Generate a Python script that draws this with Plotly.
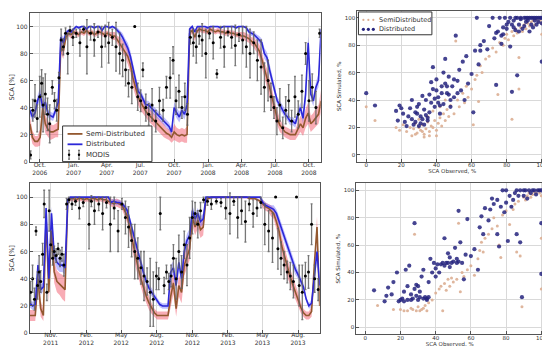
import plotly.graph_objects as go
import pandas as pd

# ---------------- DATA ----------------
# Top time series (weekly, from 2006-09-04)
top_start = "2006-09-04"
top_dist = [38, 33, 36, 45, 50, 40, 44, 36, 34, 33, 38, 44,
            92, 88,
            95, 97, 96, 98,
            100, 99, 100, 100, 98, 100, 100, 99, 100, 100, 97, 100, 100, 99, 100, 99,
            97, 95, 92, 88, 84, 78, 70, 60, 52, 50, 46, 42, 42, 40, 38, 36, 34, 32, 30, 28, 26, 22,
            40, 36, 33, 38, 35, 42,
            98, 100, 96, 100, 100, 100, 100, 99, 100, 100, 100, 100, 99, 100, 100, 100, 100, 100, 99, 100, 100, 100, 99,
            96, 95, 94, 92, 90, 88, 80, 77, 68, 60, 52, 45, 42, 38, 35, 33, 30, 30, 28, 35, 40, 32, 50, 88, 50, 45, 55, 60, 98]
top_semi = [28, 18, 15, 15, 18, 40, 28, 24, 22, 22, 23, 24,
            85, 82,
            92, 95, 94, 96,
            95, 94, 96, 95, 97, 95, 96, 94, 95, 96, 95, 94, 95, 94, 93, 93,
            90, 88, 85, 82, 78, 72, 62, 55, 48, 44, 40, 37, 35, 33, 31, 29, 27, 25, 23, 21, 20, 18,
            22, 20, 19, 20, 19, 20,
            95, 97, 92, 97, 98, 97, 97, 96, 98, 97, 96, 97, 96, 96, 95, 96, 95, 95, 94, 94, 93, 93, 92,
            91, 89, 88, 85, 82, 76, 68, 62, 55, 47, 38, 32, 27, 24, 22, 21, 20, 20, 20, 24, 28, 25, 32, 36, 28, 30, 33, 35, 45]
top_semi_spread = [6, 5, 4, 4, 6, 8, 7, 6, 6, 5, 5, 6,
                   5, 6,
                   3, 2, 3, 2,
                   2, 2, 2, 2, 2, 2, 2, 2, 2, 2, 2, 2, 2, 2, 3, 3,
                   3, 4, 5, 5, 6, 6, 7, 7, 6, 6, 5, 5, 5, 5, 5, 5, 5, 5, 5, 4, 4, 4,
                   6, 5, 5, 5, 5, 6,
                   3, 2, 3, 2, 2, 2, 2, 2, 2, 2, 2, 2, 2, 2, 2, 2, 2, 2, 2, 2, 3, 3, 3,
                   3, 3, 4, 4, 5, 6, 6, 7, 7, 7, 6, 5, 5, 4, 4, 4, 4, 4, 4, 5, 6, 6, 7, 8, 6, 6, 7, 7, 8]
top_dist_spread = [4, 3, 3, 4, 5, 4, 4, 3, 3, 3, 3, 4,
                   3, 4,
                   2, 1, 2, 1,
                   1, 1, 1, 1, 1, 1, 1, 1, 1, 1, 1, 1, 1, 1, 1, 1,
                   2, 2, 3, 3, 4, 4, 4, 4, 4, 3, 3, 3, 3, 3, 3, 3, 3, 3, 3, 3, 3, 3,
                   4, 4, 4, 4, 4, 4,
                   2, 1, 1, 1, 1, 1, 1, 1, 1, 1, 1, 1, 1, 1, 1, 1, 1, 1, 1, 1, 1, 1, 1,
                   2, 2, 2, 2, 3, 3, 4, 4, 4, 4, 4, 3, 3, 3, 3, 3, 3, 3, 3, 3, 4, 4, 5, 5, 4, 4, 4, 5, 4]

modis_top_dates = ["2006-09-06", "2006-09-12", "2006-09-18", "2006-09-24", "2006-10-01", "2006-10-06",
                   "2006-10-10", "2006-10-16", "2006-10-22", "2006-10-28", "2006-11-04", "2006-11-10",
                   "2006-11-16", "2006-11-22", "2006-11-28", "2006-12-04", "2006-12-10", "2006-12-16",
                   "2006-12-22", "2006-12-30", "2007-01-08", "2007-01-18", "2007-01-28", "2007-02-06",
                   "2007-02-16", "2007-02-26", "2007-03-08", "2007-03-18", "2007-03-28", "2007-04-06",
                   "2007-04-16", "2007-04-26", "2007-05-06", "2007-05-14", "2007-05-22", "2007-05-30",
                   "2007-06-08", "2007-06-16", "2007-06-24", "2007-07-02", "2007-07-08", "2007-07-16",
                   "2007-07-24", "2007-08-02", "2007-08-12", "2007-08-22", "2007-09-01", "2007-09-10",
                   "2007-09-20", "2007-09-28", "2007-10-06", "2007-10-14", "2007-10-22", "2007-10-30",
                   "2007-11-06", "2007-11-14", "2007-11-22", "2007-11-30", "2007-12-08", "2007-12-16",
                   "2007-12-26", "2008-01-05", "2008-01-15", "2008-01-25", "2008-02-04", "2008-02-14",
                   "2008-02-24", "2008-03-05", "2008-03-15", "2008-03-25", "2008-04-04", "2008-04-14",
                   "2008-04-24", "2008-05-04", "2008-05-14", "2008-05-24", "2008-06-02", "2008-06-12",
                   "2008-06-20", "2008-06-28", "2008-07-06", "2008-07-14", "2008-07-22", "2008-07-30",
                   "2008-08-07", "2008-08-15", "2008-08-24", "2008-09-02", "2008-09-12", "2008-09-22",
                   "2008-10-01", "2008-10-10", "2008-10-20", "2008-10-30"]
modis_top_vals = [5, 38, 45, 32, 48, 58, 42, 50, 35, 28, 55, 45,
                  38, 62, 90, 85, 95, 80, 97, 92, 95, 88, 98, 85,
                  95, 90, 96, 85, 93, 88, 92, 85, 80, 75, 68, 58,
                  55, 100, 48, 45, 68, 40, 35, 42, 30, 45, 38, 55,
                  62, 75, 45, 52, 40, 48, 35, 92, 88, 85, 93, 90,
                  80, 95, 88, 65, 92, 85, 96, 92, 86, 94, 90, 85,
                  80, 88, 75, 70, 55, 60, 48, 40, 30, 42, 25, 38,
                  45, 30, 48, 35, 52, 80, 45, 55, 40, 95]
modis_top_err = [3, 8, 12, 10, 15, 10, 20, 15, 12, 14, 5, 6,
                 8, 4, 8, 6, 4, 15, 3, 6, 3, 10, 2, 20,
                 5, 12, 4, 15, 8, 15, 6, 18, 15, 12, 12, 10,
                 12, 0, 10, 8, 5, 10, 8, 12, 8, 10, 8, 8,
                 15, 10, 10, 12, 8, 10, 8, 5, 10, 12, 6, 12,
                 18, 4, 12, 3, 8, 15, 3, 8, 15, 5, 10, 15,
                 18, 8, 15, 20, 18, 15, 10, 8, 10, 12, 8, 10,
                 12, 8, 15, 10, 12, 8, 15, 10, 12, 3]

# Bottom time series (weekly, from 2011-09-08)
bot_start = "2011-09-08"
bot_dist = [22, 20, 21, 50, 32, 34, 92, 40, 88, 58, 52, 50, 50, 48,
            98, 100, 100, 100, 100, 100, 100, 100, 100, 100, 100, 100, 100, 100, 100, 100,
            96, 97, 96, 96, 95,
            93, 90, 82, 74, 66, 58, 50, 44, 38, 33, 30, 27, 24, 21, 20, 20, 20,
            45, 48, 35, 52, 40, 60, 68, 72, 90, 84, 88, 82, 84,
            100, 100, 100, 100, 100, 100, 100, 100, 100, 100, 100, 100, 100, 100, 100, 100, 100, 100, 100, 100, 100,
            96, 94, 93, 92, 91, 88, 82, 76, 70, 64, 58, 52, 47, 43, 38, 34, 25, 20, 22, 40, 60, 35]
bot_semi = [13, 13, 13, 40, 18, 13, 85, 30, 75, 45, 38, 36, 34, 32,
            97, 99, 99, 98, 99, 99, 98, 99, 98, 99, 99, 98, 99, 98, 98, 97,
            96, 95, 96, 95, 94,
            90, 86, 76, 66, 56, 48, 40, 33, 27, 22, 18, 15, 13, 13, 13, 13, 13,
            27, 37, 18, 35, 30, 50, 56, 62, 85, 78, 83, 76, 78,
            98, 99, 100, 100, 100, 100, 100, 100, 100, 100, 100, 100, 100, 100, 100, 100, 99, 99, 99, 98, 97,
            95, 93, 92, 90, 88, 82, 75, 64, 56, 48, 42, 36, 30, 25, 19, 15, 13, 13, 16, 50, 78, 20]
bot_semi_spread = [4, 4, 4, 8, 6, 4, 6, 8, 8, 8, 8, 8, 9, 9,
                   2, 2, 2, 2, 2, 2, 2, 2, 2, 2, 2, 2, 2, 2, 2, 2,
                   3, 3, 3, 3, 3,
                   4, 5, 6, 7, 7, 7, 7, 6, 5, 5, 4, 3, 3, 3, 3, 3, 3,
                   8, 8, 6, 8, 8, 8, 8, 8, 6, 6, 6, 6, 6,
                   1, 1, 1, 1, 1, 1, 1, 1, 1, 1, 1, 1, 1, 1, 1, 1, 1, 1, 1, 1, 1,
                   3, 3, 3, 4, 4, 5, 6, 7, 7, 7, 6, 6, 5, 5, 4, 3, 3, 3, 4, 8, 8, 5]
bot_dist_spread = [3, 3, 3, 5, 4, 3, 4, 4, 5, 5, 5, 5, 5, 5,
                   1, 1, 1, 1, 1, 1, 1, 1, 1, 1, 1, 1, 1, 1, 1, 1,
                   2, 2, 2, 2, 2,
                   2, 3, 3, 4, 4, 4, 4, 4, 3, 3, 3, 2, 2, 2, 2, 2, 2,
                   5, 5, 4, 5, 5, 5, 5, 5, 4, 4, 4, 4, 4,
                   1, 1, 1, 1, 1, 1, 1, 1, 1, 1, 1, 1, 1, 1, 1, 1, 1, 1, 1, 1, 1,
                   2, 2, 2, 2, 3, 3, 4, 4, 4, 4, 4, 4, 4, 3, 3, 3, 2, 2, 3, 5, 5, 4]

modis_bot_dates = ["2011-09-10", "2011-09-15", "2011-09-20", "2011-09-24", "2011-09-28", "2011-10-02",
                   "2011-10-06", "2011-10-11", "2011-10-15", "2011-10-22", "2011-10-28", "2011-11-01",
                   "2011-11-06", "2011-11-10", "2011-11-15", "2011-11-20", "2011-11-25", "2011-11-30",
                   "2011-12-05", "2011-12-12", "2011-12-18", "2011-12-26", "2012-01-04", "2012-01-14",
                   "2012-01-24", "2012-02-08", "2012-02-14", "2012-02-22", "2012-03-04", "2012-03-14",
                   "2012-03-24", "2012-04-03", "2012-04-13", "2012-04-23", "2012-05-03", "2012-05-12",
                   "2012-05-20", "2012-05-28", "2012-06-05", "2012-06-13", "2012-06-21", "2012-06-29",
                   "2012-07-07", "2012-07-15", "2012-07-23", "2012-07-31", "2012-08-06", "2012-08-10",
                   "2012-08-20", "2012-08-26", "2012-09-01", "2012-09-07", "2012-09-13", "2012-09-20",
                   "2012-09-27", "2012-10-04", "2012-10-11", "2012-10-18", "2012-10-25", "2012-11-01",
                   "2012-11-08", "2012-11-15", "2012-11-22", "2012-11-30", "2012-12-10", "2012-12-20",
                   "2013-01-02", "2013-01-14", "2013-01-26", "2013-02-06", "2013-02-16", "2013-02-26",
                   "2013-03-08", "2013-03-18", "2013-03-28", "2013-04-07", "2013-04-17", "2013-04-27",
                   "2013-05-07", "2013-05-17", "2013-05-27", "2013-06-04", "2013-06-10", "2013-06-18",
                   "2013-06-26", "2013-07-04", "2013-07-12", "2013-07-20", "2013-07-28", "2013-08-04",
                   "2013-08-12", "2013-08-20", "2013-08-28", "2013-09-05", "2013-09-13", "2013-09-22"]
modis_bot_vals = [30, 40, 25, 75, 35, 45, 38, 58, 95, 30, 90, 65,
                  55, 60, 57, 62, 55, 58, 50, 95, 98, 95, 97, 92,
                  96, 80, 97, 90, 95, 88, 96, 80, 92, 75, 95, 85,
                  78, 68, 60, 55, 48, 42, 38, 30, 25, 42, 40, 88,
                  35, 45, 38, 42, 55, 40, 60, 45, 65, 50, 70, 85,
                  88, 80, 90, 98, 97, 95, 97, 96, 92, 88, 97, 85,
                  90, 82, 95, 88, 92, 96, 80, 75, 70, 100, 62, 55,
                  50, 45, 42, 38, 100, 35, 30, 42, 45, 80, 40, 32]
modis_bot_err = [8, 10, 8, 3, 10, 12, 8, 8, 10, 6, 15, 10,
                 5, 4, 5, 4, 6, 5, 8, 4, 2, 4, 3, 8,
                 3, 18, 4, 10, 5, 12, 4, 20, 8, 15, 4, 12,
                 15, 12, 20, 15, 12, 18, 10, 25, 20, 10, 8, 12,
                 6, 5, 6, 8, 10, 15, 12, 12, 10, 15, 15, 12,
                 8, 10, 6, 2, 3, 4, 2, 3, 8, 15, 3, 15,
                 10, 15, 5, 10, 6, 4, 15, 15, 18, 0, 15, 12,
                 10, 8, 10, 12, 0, 15, 20, 10, 12, 15, 10, 8]

# Scatter (observed, simulated) pairs
sc1_dist = [(0, 45), (5, 36), (17, 32), (18, 25), (19, 36), (21, 30), (22, 24), (24, 28), (25, 34), (26, 40),
            (28, 24), (29, 30), (30, 37), (31, 23), (32, 43), (33, 33), (34, 40), (35, 25), (37, 53), (38, 64),
            (39, 35), (40, 47), (41, 42), (42, 30), (43, 50), (44, 37), (45, 70), (46, 45), (47, 57), (48, 35),
            (49, 50), (50, 42), (51, 87), (52, 54), (53, 62), (54, 47), (55, 68), (56, 40), (57, 72), (58, 52),
            (60, 59), (61, 31), (62, 76), (63, 100), (64, 66), (65, 80), (65, 76), (67, 83), (69, 77), (72, 100),
            (73, 85), (74, 89), (74, 51), (76, 100), (77, 87), (77, 81), (78, 93), (79, 100), (80, 92), (81, 97),
            (82, 79), (83, 46), (83, 95), (84, 98), (85, 91), (86, 100), (86, 58), (87, 95), (88, 99), (89, 92),
            (90, 100), (91, 97), (92, 100), (92, 98), (93, 100), (94, 95), (95, 100), (96, 98), (97, 100), (98, 97),
            (99, 100), (100, 68), (82, 100), (85, 100), (88, 100), (91, 100), (94, 100), (96, 100), (98, 100),
            (100, 100), (100, 96), (90, 94), (87, 90), (84, 93), (80, 95), (78, 88), (75, 90), (70, 94), (93, 90),
            (95, 93), (97, 95), (27, 22), (30, 21), (33, 22), (35, 27), (36, 44), (38, 48), (40, 55), (41, 38),
            (43, 45), (44, 60), (46, 50), (48, 40), (50, 55), (52, 45), (36, 31), (31, 28), (29, 35), (23, 21),
            (20, 34), (26, 26), (39, 41), (42, 36), (45, 52), (47, 44), (34, 29), (37, 38), (32, 26), (28, 31)]
sc1_semi = [(0, 35), (5, 25), (17, 20), (19, 18), (21, 22), (23, 17), (25, 20), (26, 14), (27, 19), (28, 23),
            (29, 16), (30, 20), (31, 18), (32, 22), (33, 15), (34, 19), (35, 24), (36, 17), (37, 21), (38, 20),
            (39, 25), (40, 18), (41, 23), (42, 27), (43, 21), (44, 30), (45, 25), (46, 33), (47, 28), (48, 36),
            (50, 30), (51, 83), (52, 40), (53, 35), (55, 45), (56, 38), (57, 50), (58, 42), (60, 48), (61, 22),
            (62, 55), (63, 58), (64, 39), (65, 65), (66, 60), (68, 70), (70, 72), (72, 78), (74, 75), (75, 44),
            (76, 82), (78, 80), (79, 85), (80, 88), (81, 84), (83, 26), (83, 90), (84, 87), (85, 92), (86, 89),
            (87, 48), (87, 71), (88, 93), (89, 90), (90, 95), (91, 92), (92, 96), (93, 94), (94, 97), (95, 98),
            (96, 95), (97, 99), (98, 97), (99, 98), (100, 96), (100, 88), (38, 32), (42, 35), (45, 40), (35, 28),
            (30, 26), (33, 13), (36, 14), (28, 15), (40, 14), (32, 17)]
sc2_dist = [(5, 27), (28, 76), (11, 19), (12, 23), (13, 29), (15, 24), (16, 33), (18, 40), (19, 19), (21, 21),
            (22, 19), (23, 42), (25, 45), (26, 24), (27, 21), (28, 28), (29, 23), (30, 30), (31, 22), (32, 37),
            (33, 42), (35, 21), (36, 33), (37, 50), (38, 40), (39, 47), (40, 37), (41, 46), (42, 40), (43, 46),
            (45, 65), (46, 47), (47, 54), (48, 51), (49, 47), (51, 58), (52, 50), (53, 85), (54, 62), (55, 47),
            (56, 35), (57, 53), (58, 79), (60, 52), (62, 57), (64, 42), (65, 73), (66, 81), (67, 68), (68, 87),
            (70, 78), (71, 86), (72, 94), (73, 90), (75, 68), (75, 93), (76, 59), (77, 88), (78, 100), (79, 84),
            (80, 100), (80, 91), (81, 63), (82, 96), (83, 88), (84, 93), (85, 98), (86, 68), (86, 100), (87, 96),
            (88, 62), (88, 100), (89, 22), (90, 100), (90, 96), (91, 100), (92, 94), (93, 100), (94, 98), (95, 100),
            (96, 100), (97, 97), (98, 100), (99, 100), (100, 100), (100, 76), (100, 39), (20, 20), (24, 20),
            (26, 20), (30, 20), (33, 21), (34, 22), (35, 20), (31, 26), (29, 31), (22, 26), (24, 30), (36, 22),
            (40, 43), (44, 47), (50, 48), (52, 47), (48, 44), (45, 45), (47, 47), (53, 48)]
sc2_semi = [(7, 16), (16, 13), (20, 13), (22, 12), (24, 12), (26, 14), (27, 13), (28, 68), (29, 12), (30, 15),
            (31, 12), (32, 13), (33, 14), (34, 16), (35, 12), (36, 18), (38, 20), (40, 25), (42, 28), (43, 30),
            (44, 12), (45, 32), (46, 27), (47, 35), (48, 30), (49, 36), (50, 33), (52, 35), (53, 76), (54, 26),
            (55, 40), (56, 37), (58, 42), (60, 45), (62, 38), (64, 50), (65, 56), (66, 62), (67, 55), (68, 65),
            (70, 68), (72, 72), (73, 80), (75, 74), (76, 60), (77, 51), (78, 82), (80, 85), (82, 75), (83, 88),
            (84, 86), (85, 90), (86, 55), (87, 92), (88, 52), (89, 15), (90, 95), (91, 93), (92, 96), (93, 98),
            (94, 95), (95, 97), (96, 99), (97, 98), (98, 100), (99, 98), (100, 96), (100, 65), (100, 28)]

top_tickvals = ["2006-10-01", "2007-01-01", "2007-04-01", "2007-07-01", "2007-10-01",
                "2008-01-01", "2008-04-01", "2008-07-01", "2008-10-01"]
top_ticktext = ["Oct.<br>2006", "Jan.<br>2007", "Apr.<br>2007", "Jul.<br>2007", "Oct.<br>2007",
                "Jan.<br>2008", "Apr.<br>2008", "Jul.<br>2008", "Oct.<br>2008"]
bot_tickvals = ["2011-11-01", "2012-02-01", "2012-05-01", "2012-08-01",
                "2012-11-01", "2013-02-01", "2013-05-01", "2013-08-01"]
bot_ticktext = ["Nov.<br>2011", "Feb.<br>2012", "May<br>2012", "Aug.<br>2012",
                "Nov.<br>2012", "Feb.<br>2013", "May<br>2013", "Aug.<br>2013"]
ts_legend_names = ["Semi-Distributed", "Distributed", "MODIS"]
sc_legend_names = ["SemiDistributed", "Distributed"]

# ---------------- STYLE ----------------
SEMI_C = "#93582f"
DIST_C = "#2c28d8"
SEMI_BAND = "rgba(240,70,90,0.45)"
DIST_BAND = "rgba(110,110,255,0.45)"
SC_SEMI = "#dcae92"
SC_DIST = "#25237e"
FONT = "DejaVu Sans"
W, H = 550, 346

fig = go.Figure()


def add_ts(start, dist, semi, dspread, sspread, mdates, mvals, merr, xa, ya):
    dates = pd.date_range(start, periods=len(dist), freq="7D")
    s_lo = [v - s for v, s in zip(semi, sspread)]
    s_hi = [min(v + s, 100) for v, s in zip(semi, sspread)]
    d_lo = [v - s for v, s in zip(dist, dspread)]
    d_hi = [min(v + s, 100) for v, s in zip(dist, dspread)]
    common = dict(xaxis=xa, yaxis=ya, showlegend=False, hoverinfo="skip")
    fig.add_trace(go.Scatter(x=dates, y=s_lo, mode="lines", line=dict(width=0, color=SEMI_BAND), **common))
    fig.add_trace(go.Scatter(x=dates, y=s_hi, mode="lines", line=dict(width=0, color=SEMI_BAND),
                             fill="tonexty", fillcolor=SEMI_BAND, **common))
    fig.add_trace(go.Scatter(x=dates, y=d_lo, mode="lines", line=dict(width=0, color=DIST_BAND), **common))
    fig.add_trace(go.Scatter(x=dates, y=d_hi, mode="lines", line=dict(width=0, color=DIST_BAND),
                             fill="tonexty", fillcolor=DIST_BAND, **common))
    fig.add_trace(go.Scatter(x=dates, y=semi, mode="lines", name=ts_legend_names[0],
                             line=dict(color=SEMI_C, width=1.6), xaxis=xa, yaxis=ya, showlegend=False))
    fig.add_trace(go.Scatter(x=dates, y=dist, mode="lines", name=ts_legend_names[1],
                             line=dict(color=DIST_C, width=1.6), xaxis=xa, yaxis=ya, showlegend=False))
    fig.add_trace(go.Scatter(x=pd.to_datetime(mdates), y=mvals, mode="markers", name=ts_legend_names[2],
                             marker=dict(color="black", size=3),
                             error_y=dict(type="data", array=merr, color="rgba(95,95,95,0.85)",
                                          thickness=1.3, width=1),
                             xaxis=xa, yaxis=ya, showlegend=False))


add_ts(top_start, top_dist, top_semi, top_dist_spread, top_semi_spread,
       modis_top_dates, modis_top_vals, modis_top_err, "x", "y")
add_ts(bot_start, bot_dist, bot_semi, bot_dist_spread, bot_semi_spread,
       modis_bot_dates, modis_bot_vals, modis_bot_err, "x2", "y2")


def add_sc(semi_pairs, dist_pairs, xa, ya):
    so, ss = zip(*semi_pairs)
    do, ds = zip(*dist_pairs)
    fig.add_trace(go.Scatter(x=so, y=ss, mode="markers", name=sc_legend_names[0],
                             marker=dict(color=SC_SEMI, size=3, opacity=0.9),
                             xaxis=xa, yaxis=ya, showlegend=False))
    fig.add_trace(go.Scatter(x=do, y=ds, mode="markers", name=sc_legend_names[1],
                             marker=dict(color=SC_DIST, size=4.2, opacity=0.85),
                             xaxis=xa, yaxis=ya, showlegend=False))


add_sc(sc1_semi, sc1_dist, "x3", "y3")
add_sc(sc2_semi, sc2_dist, "x4", "y4")

# ---------------- LEGENDS (drawn in paper space, compact like the original) ----------------
def px(x):
    return x / W


def py(y):
    return 1 - y / H


shapes = []
annotations = []


def box(x0, y0, x1, y1):
    shapes.append(dict(type="rect", xref="paper", yref="paper", x0=px(x0), x1=px(x1), y0=py(y1), y1=py(y0),
                       line=dict(color="#333", width=1), fillcolor="white", layer="above"))


def hline(x0, x1, y, color, width):
    shapes.append(dict(type="line", xref="paper", yref="paper", x0=px(x0), x1=px(x1), y0=py(y), y1=py(y),
                       line=dict(color=color, width=width), layer="above"))


def vline(x, y0, y1, color, width):
    shapes.append(dict(type="line", xref="paper", yref="paper", x0=px(x), x1=px(x), y0=py(y0), y1=py(y1),
                       line=dict(color=color, width=width), layer="above"))


def dot(x, y, r, color):
    shapes.append(dict(type="circle", xref="paper", yref="paper", x0=px(x - r), x1=px(x + r),
                       y0=py(y + r), y1=py(y - r), line=dict(width=0), fillcolor=color, layer="above"))


def label(x, y, text, size):
    annotations.append(dict(xref="paper", yref="paper", x=px(x), y=py(y), text=text, showarrow=False,
                            xanchor="left", yanchor="middle",
                            font=dict(family=FONT, size=size, color="#333")))


# time-series legend
box(55, 119, 145, 155)
hline(60, 75, 127, SEMI_C, 1.8)
label(77, 127, ts_legend_names[0], 7)
hline(60, 75, 137.5, DIST_C, 1.8)
label(77, 137.5, ts_legend_names[1], 7)
for xm in (61.5, 71.5):
    vline(xm, 143.5, 152.5, "#555", 1)
    hline(xm - 1, xm + 1, 143.5, "#555", 1)
    hline(xm - 1, xm + 1, 152.5, "#555", 1)
    dot(xm, 148, 1.2, "black")
label(77, 148, ts_legend_names[2], 7)

# scatter legend
box(353, 4, 427, 27)
for xm in (358, 363, 368):
    dot(xm, 12, 1.1, SC_SEMI)
    dot(xm, 21.5, 1.6, SC_DIST)
label(372, 12, sc_legend_names[0], 6.5)
label(372, 21.5, sc_legend_names[1], 6.5)

# ---------------- AXES ----------------
axis_common = dict(showline=True, mirror=True, linecolor="#555", linewidth=1,
                   showgrid=True, gridcolor="#d9d9d9", gridwidth=1, zeroline=False,
                   ticks="inside", ticklen=3, tickcolor="#555",
                   tickfont=dict(family=FONT, size=6, color="#333"))
sc_common = dict(axis_common)
sc_common["tickfont"] = dict(family=FONT, size=5.5, color="#333")


def xd(a, b):
    return [a / W, b / W]


def yd(top, bottom):
    return [1 - bottom / H, 1 - top / H]


ts_title = dict(text="SCA [%]", font=dict(family=FONT, size=6.5, color="#333"), standoff=3)
sc_xtitle = dict(text="SCA Observed, %", font=dict(family=FONT, size=5.5, color="#333"), standoff=0)
sc_ytitle = dict(text="SCA Simulated, %", font=dict(family=FONT, size=5.5, color="#333"), standoff=2)

fig.update_layout(
    width=W, height=H, margin=dict(l=0, r=0, t=0, b=0),
    paper_bgcolor="white", plot_bgcolor="white", showlegend=False,
    font=dict(family=FONT, size=6, color="#333"),
    shapes=shapes, annotations=annotations,
    xaxis=dict(domain=xd(22, 315), anchor="y", type="date", range=["2006-09-04", "2008-11-02"],
               tickvals=top_tickvals, ticktext=top_ticktext, ticklabelstandoff=-3, **axis_common),
    yaxis=dict(domain=yd(5, 155), anchor="x", range=[0, 110], tickvals=[0, 20, 40, 60, 80, 100],
               title=ts_title, **axis_common),
    xaxis2=dict(domain=xd(22, 314), anchor="y2", type="date", range=["2011-09-08", "2013-09-26"],
                tickvals=bot_tickvals, ticktext=bot_ticktext, ticklabelstandoff=-4, **axis_common),
    yaxis2=dict(domain=yd(177, 328), anchor="x2", range=[0, 110], tickvals=[0, 20, 40, 60, 80, 100],
                title=ts_title, **axis_common),
    xaxis3=dict(domain=xd(352, 543), anchor="y3", range=[-5, 103], tickvals=[0, 20, 40, 60, 80, 100],
                ticklabelstandoff=-2, title=sc_xtitle, **sc_common),
    yaxis3=dict(domain=yd(3, 155), anchor="x3", range=[-5, 105], tickvals=[0, 20, 40, 60, 80, 100],
                title=sc_ytitle, **sc_common),
    xaxis4=dict(domain=xd(351, 539), anchor="y4", range=[-5, 101], tickvals=[0, 20, 40, 60, 80, 100],
                ticklabelstandoff=-2, title=sc_xtitle, **sc_common),
    yaxis4=dict(domain=yd(177, 329), anchor="x4", range=[-5, 105], tickvals=[0, 20, 40, 60, 80, 100],
                title=sc_ytitle, **sc_common),
)

fig.write_html("out.html")
